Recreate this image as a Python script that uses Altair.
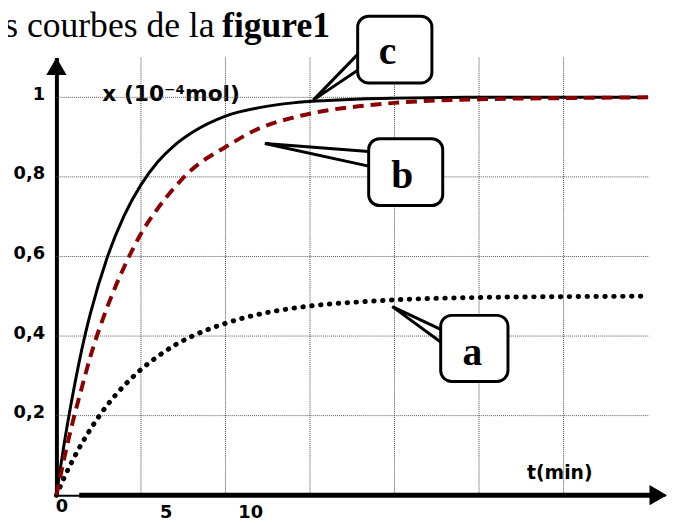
import altair as alt
import pandas as pd

# ---- data ----
t_min = [0, 0.5, 1, 1.5, 2, 3, 4, 5, 6, 7, 8, 10, 12, 14, 16, 18, 20, 25, 30, 35]
x_a = [0, 0.048, 0.091, 0.13, 0.165, 0.226, 0.275, 0.316, 0.349, 0.377, 0.399,
       0.432, 0.455, 0.47, 0.48, 0.486, 0.491, 0.497, 0.499, 0.5]
x_b = [0, 0.10, 0.19, 0.27, 0.347, 0.472, 0.573, 0.657, 0.721, 0.774, 0.818,
       0.875, 0.922, 0.949, 0.967, 0.978, 0.986, 0.995, 0.998, 1.0]
x_c = [0, 0.14, 0.26, 0.366, 0.455, 0.597, 0.702, 0.78, 0.838, 0.88, 0.911,
       0.953, 0.974, 0.986, 0.992, 0.996, 0.998, 1.0, 1.0, 1.0]

x_tick_values = [0, 5, 10]
y_tick_values = [0.2, 0.4, 0.6, 0.8, 1.0]
grid_t = [5, 10, 15, 20, 25, 30]
grid_x = [0.2, 0.4, 0.6, 0.8, 1.0]

callout_labels = ["c", "b", "a"]
box_t1 = [17.82, 18.47, 22.73]
box_t2 = [22.21, 22.85, 26.71]
box_x1 = [1.036, 0.728, 0.286]
box_x2 = [1.204, 0.896, 0.452]
label_t = [19.58, 20.45, 24.6]
label_x = [1.083, 0.772, 0.328]
tail_t = [[17.82, 15.19, 17.82], [18.47, 12.33, 18.47], [22.73, 19.87, 22.73]]
tail_x = [[1.108, 0.993, 1.068], [0.864, 0.884, 0.827], [0.417, 0.474, 0.385]]

title_normal = "s courbes de la"
title_bold = "figure1"
y_title = "x (10⁻⁴mol)"
x_title = "t(min)"

# ---- tables ----
n = len(t_min)
curves = pd.DataFrame({
    "t": t_min * 3,
    "x": x_a + x_b + x_c,
    "courbe": ["a"] * n + ["b"] * n + ["c"] * n,
})
vgrid = pd.DataFrame({"t": grid_t, "y0": [0.0] * len(grid_t), "y1": [1.1] * len(grid_t)})
hgrid = pd.DataFrame({"x": grid_x, "t0": [0.0] * len(grid_x), "t1": [35.07] * len(grid_x)})
boxes = pd.DataFrame({"label": callout_labels, "t1": box_t1, "t2": box_t2,
                      "x1": box_x1, "x2": box_x2, "lt": label_t, "lx": label_x})
tails = pd.DataFrame({
    "label": [l for l in callout_labels for _ in range(3)],
    "order": [0, 1, 2] * 3,
    "t": [v for row in tail_t for v in row],
    "x": [v for row in tail_x for v in row],
})
axis_bar = pd.DataFrame({"t0": [1.35], "t1": [35.3], "x": [0.0]})
arrow_up = pd.DataFrame({"t": [0.0], "x": [1.078]})
arrow_right = pd.DataFrame({"t": [35.6], "x": [0.0]})
titles = pd.DataFrame({"t": [9.35, 9.8], "x": [1.152, 1.152],
                       "txt": [title_normal, title_bold]})

W, H = 616, 443
xs = alt.Scale(domain=[0, 36], nice=False, zero=False)
ys = alt.Scale(domain=[0, 1.1], nice=False, zero=False)
SANS = "DejaVu Sans"
SERIF = "Liberation Serif"

x_axis = alt.Axis(
    values=x_tick_values, grid=False, ticks=False, domain=True,
    domainColor="black", domainWidth=2,
    labelFont=SANS, labelFontWeight="bold", labelFontSize=18, labelColor="black",
    labelBaseline="top", labelAlign="center", labelFlush=False, labelOverlap=False,
    labelOffset={"condition": {"test": "datum.value == 0", "value": 5}, "value": 25},
    labelPadding={"condition": {"test": "datum.value == 0", "value": 2}, "value": 9},
    title=x_title, titleFont=SANS, titleFontWeight="bold", titleFontSize=19,
    titleColor="black", titleX=509, titleY=-17, titleAlign="center",
    titleBaseline="alphabetic", titleAngle=0,
)
y_axis = alt.Axis(
    values=y_tick_values, grid=False, ticks=False, domain=True,
    domainColor="black", domainWidth=4,
    labelFont=SANS, labelFontWeight="bold", labelFontSize=18, labelColor="black",
    labelExpr="replace(format(datum.value, '.1~f'), '.', ',')",
    labelPadding=12, labelOffset=-3, labelBaseline="middle", labelFlush=False,
    title=y_title, titleFont=SANS, titleFontWeight="bold", titleFontSize=22,
    titleColor="black", titleAngle=0, titleX=46, titleY=43, titleAlign="left",
    titleBaseline="alphabetic",
)


def X(field):
    return alt.X(field, type="quantitative", scale=xs, axis=x_axis)


def Y(field):
    return alt.Y(field, type="quantitative", scale=ys, axis=y_axis)


vrules = alt.Chart(vgrid).mark_rule(color="#444", strokeWidth=1, strokeDash=[1, 1]).encode(
    x=X("t"), y=Y("y0"), y2="y1:Q")
hrules = alt.Chart(hgrid).mark_rule(color="#555", strokeWidth=1, strokeDash=[1, 1]).encode(
    y=Y("x"), x=X("t0"), x2="t1:Q")

line_c = alt.Chart(curves).transform_filter(alt.datum.courbe == "c").mark_line(
    color="black", strokeWidth=3, interpolate="monotone").encode(x=X("t"), y=Y("x"))
line_b = alt.Chart(curves).transform_filter(alt.datum.courbe == "b").mark_line(
    color="#8b0000", strokeWidth=4, strokeDash=[11, 7], interpolate="monotone").encode(
    x=X("t"), y=Y("x"))
line_a = alt.Chart(curves).transform_filter(alt.datum.courbe == "a").mark_line(
    color="black", strokeWidth=5, strokeDash=[0.5, 8.5], strokeCap="round",
    interpolate="monotone").encode(x=X("t"), y=Y("x"))

xbar = alt.Chart(axis_bar).mark_rule(color="black", strokeWidth=5).encode(
    x=X("t0"), x2="t1:Q", y=Y("x"))
up = alt.Chart(arrow_up).mark_point(shape="triangle-up", filled=True, size=420,
                                    color="black", opacity=1).encode(x=X("t"), y=Y("x"))
right = alt.Chart(arrow_right).mark_point(shape="triangle-right", filled=True, size=420,
                                          color="black", opacity=1).encode(x=X("t"), y=Y("x"))

tail_lines = alt.Chart(tails).mark_line(color="black", strokeWidth=3, strokeJoin="miter").encode(
    x=X("t"), y=Y("x"), detail="label:N", order="order:Q")
box_rects = alt.Chart(boxes).mark_rect(fill="white", stroke="black", strokeWidth=3,
                                       cornerRadius=11).encode(
    x=X("t1"), x2="t2:Q", y=Y("x1"), y2="x2:Q")
box_text = alt.Chart(boxes).mark_text(font=SERIF, fontWeight="bold", fontSize=40,
                                      color="black", align="center",
                                      baseline="alphabetic").encode(
    x=X("lt"), y=Y("lx"), text="label:N")

title_a = alt.Chart(titles).transform_filter(alt.datum.txt == title_normal).mark_text(
    font=SERIF, fontSize=36, color="black", align="right", baseline="alphabetic").encode(
    x=X("t"), y=Y("x"), text="txt:N")
title_b = alt.Chart(titles).transform_filter(alt.datum.txt == title_bold).mark_text(
    font=SERIF, fontSize=36, fontWeight="bold", color="black", align="left",
    baseline="alphabetic").encode(x=X("t"), y=Y("x"), text="txt:N")

chart = alt.layer(
    vrules, hrules, line_c, line_a, line_b, xbar, up, right,
    tail_lines, box_rects, box_text, title_a, title_b,
).properties(
    width=W, height=H,
    autosize=alt.AutoSizeParams(type="none"),
    padding={"left": 49, "top": 47, "right": 2, "bottom": 26},
    background="white",
).configure_view(strokeWidth=0)

chart.save("out.html", embed_options={"renderer": "svg", "actions": False})
